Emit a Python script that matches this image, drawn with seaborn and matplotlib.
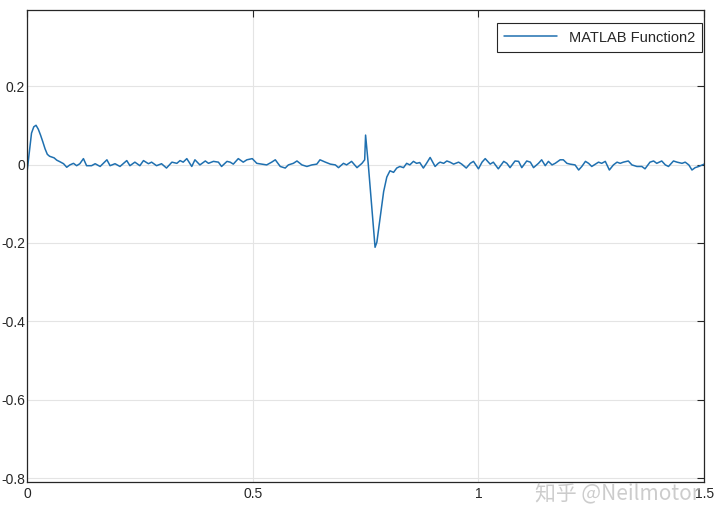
import matplotlib
matplotlib.use("Agg")
import matplotlib.pyplot as plt
import seaborn as sns
import numpy as np
import pandas as pd

# -----------------------------
# data
# -----------------------------
t = [0.000, 0.005, 0.010, 0.015, 0.020, 0.025, 0.030, 0.035, 0.040, 0.045,
     0.050, 0.055, 0.060, 0.066, 0.073, 0.081, 0.088, 0.095, 0.103, 0.110,
     0.117, 0.125, 0.132, 0.143, 0.151, 0.162, 0.177, 0.184, 0.195, 0.206,
     0.221, 0.228, 0.239, 0.250, 0.258, 0.269, 0.276, 0.287, 0.298, 0.309,
     0.321, 0.332, 0.339, 0.346, 0.354, 0.365, 0.372, 0.383, 0.395, 0.402,
     0.413, 0.424, 0.431, 0.443, 0.450, 0.457, 0.468, 0.479, 0.487, 0.499,
     0.509, 0.520, 0.531, 0.542, 0.550, 0.561, 0.572, 0.579, 0.590, 0.598,
     0.609, 0.620, 0.631, 0.642, 0.649, 0.661, 0.672, 0.683, 0.690, 0.701,
     0.708, 0.719, 0.731, 0.742, 0.748, 0.750, 0.756, 0.764, 0.771, 0.775,
     0.782, 0.790, 0.797, 0.804, 0.812, 0.819, 0.826, 0.834, 0.841, 0.848,
     0.856, 0.863, 0.870, 0.878, 0.885, 0.893, 0.904, 0.911, 0.915, 0.923,
     0.930, 0.937, 0.945, 0.956, 0.963, 0.973, 0.982, 0.989, 1.000, 1.008,
     1.015, 1.026, 1.033, 1.044, 1.056, 1.063, 1.070, 1.081, 1.089, 1.096,
     1.107, 1.115, 1.122, 1.133, 1.140, 1.148, 1.155, 1.163, 1.170, 1.181,
     1.188, 1.196, 1.203, 1.214, 1.222, 1.229, 1.237, 1.244, 1.251, 1.259,
     1.266, 1.273, 1.281, 1.290, 1.299, 1.307, 1.314, 1.321, 1.332, 1.340,
     1.351, 1.362, 1.369, 1.380, 1.388, 1.395, 1.406, 1.414, 1.421, 1.432,
     1.440, 1.451, 1.458, 1.466, 1.473, 1.480, 1.488, 1.500]

signal = [-0.020, 0.030, 0.080, 0.096, 0.100, 0.090, 0.075, 0.058, 0.040, 0.026,
          0.021, 0.019, 0.017, 0.011, 0.007, 0.002, -0.007, -0.001, 0.003, -0.003,
          0.002, 0.015, -0.003, -0.003, 0.002, -0.005, 0.012, -0.003, 0.002, -0.005,
          0.010, -0.003, 0.006, -0.003, 0.010, 0.002, 0.006, -0.003, 0.002, -0.009,
          0.006, 0.003, 0.010, 0.006, 0.015, -0.005, 0.012, -0.001, 0.009, 0.003,
          0.008, 0.006, -0.005, 0.008, 0.006, 0.001, 0.015, 0.006, 0.012, 0.015,
          0.003, 0.001, -0.001, 0.006, 0.012, -0.005, -0.009, -0.001, 0.003, 0.009,
          -0.001, -0.005, -0.001, 0.001, 0.012, 0.006, 0.001, -0.001, -0.008, 0.003,
          -0.001, 0.008, -0.008, 0.003, 0.012, 0.075, 0.000, -0.112, -0.211, -0.198,
          -0.138, -0.069, -0.032, -0.016, -0.020, -0.009, -0.005, -0.008, 0.003, -0.001,
          0.008, 0.003, 0.005, -0.009, 0.003, 0.018, -0.005, 0.003, 0.006, 0.003,
          0.009, 0.006, 0.001, 0.006, 0.001, -0.009, 0.003, 0.008, -0.011, 0.006,
          0.015, 0.001, 0.006, -0.011, 0.008, 0.003, -0.008, 0.009, 0.008, -0.008,
          0.009, 0.006, -0.008, 0.003, 0.012, -0.003, 0.008, -0.001, 0.003, 0.012,
          0.012, 0.003, 0.001, -0.001, -0.014, -0.005, 0.008, 0.003, -0.005, 0.001,
          0.006, 0.003, 0.008, -0.014, -0.001, 0.006, 0.003, 0.006, 0.009, -0.001,
          -0.005, -0.005, -0.011, 0.006, 0.009, 0.003, 0.009, -0.001, -0.005, 0.009,
          0.006, 0.003, 0.006, -0.001, -0.014, -0.008, -0.005, 0.001]

x_ticks = [0, 0.5, 1, 1.5]
x_labels = ["0", "0.5", "1", "1.5"]
y_ticks = [-0.8, -0.6, -0.4, -0.2, 0, 0.2]
y_labels = ["-0.8", "-0.6", "-0.4", "-0.2", "0", "0.2"]

df = pd.DataFrame({"t": t, "value": signal})

# -----------------------------
# MATLAB-like figure
# -----------------------------
sns.set_theme(style="white")
plt.rcParams["font.family"] = ["Liberation Sans", "DejaVu Sans"]
plt.rcParams["axes.unicode_minus"] = False

fig, ax = plt.subplots(figsize=(7.2, 5.3), dpi=100)
fig.subplots_adjust(left=0.0375, right=0.978, top=0.982, bottom=0.09)

sns.lineplot(data=df, x="t", y="value", ax=ax, color="#1f70b0",
             linewidth=1.1, label="MATLAB Function2", sort=False)

ax.set_xlim(0, 1.5)
ax.set_ylim(-0.81, 0.395)
ax.set_xticks(x_ticks)
ax.set_xticklabels(x_labels)
ax.set_yticks(y_ticks)
ax.set_yticklabels(y_labels)
ax.set_xlabel("")
ax.set_ylabel("")

ax.grid(True, color="#e4e4e4", linewidth=0.8)
ax.set_axisbelow(True)
for side in ax.spines.values():
    side.set_color("#262626")
    side.set_linewidth(0.9)

ax.tick_params(axis="both", direction="in", length=5, width=0.8,
               top=True, right=True, labelsize=10, colors="#262626")
ax.tick_params(axis="y", pad=1.5)
ax.tick_params(axis="x", pad=3.5)

leg = ax.legend(loc="upper right", fontsize=10.5, frameon=True, fancybox=False,
                framealpha=1, borderpad=0.5, handlelength=3.6,
                borderaxespad=0, bbox_to_anchor=(0.997, 0.971))
leg.get_frame().set_edgecolor("#262626")
leg.get_frame().set_linewidth(0.8)

# site watermark
fig.text(0.857, 0.07, "知乎 @Neilmotor", fontsize=15, color="#c4c4c4",
         alpha=0.85, ha="center", va="center",
         family=["Noto Sans CJK SC", "DejaVu Sans"])

plt.savefig("out.png", dpi=100)
